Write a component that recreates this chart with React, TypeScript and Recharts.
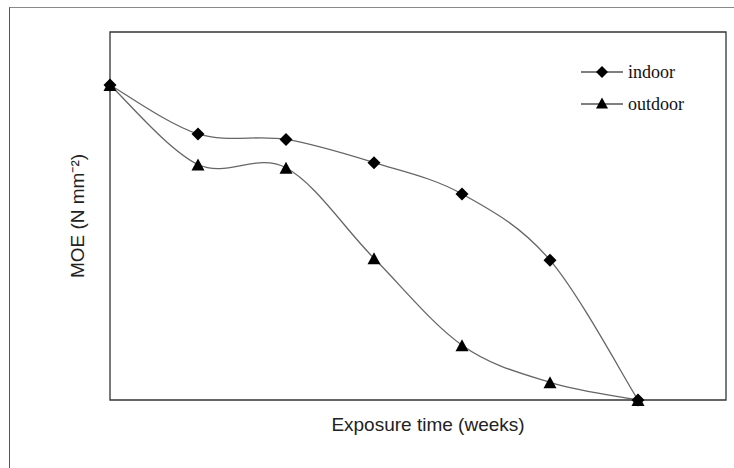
import { LineChart, Line, XAxis, YAxis, ReferenceArea, Legend } from "recharts";

const weeks = [0, 1, 2, 3, 4, 5, 6];
const indoorMoe = [85.6, 72.3, 70.8, 64.5, 56.0, 38.0, 0];
const outdoorMoe = [85.6, 64.0, 63.1, 38.5, 14.9, 4.8, 0];

const chartData = weeks.map((week, i) => ({
    week,
    indoor: indoorMoe[i],
    outdoor: outdoorMoe[i],
}));

/*
Excel-like smoothed line (catmull-rom through every point)
*/
function smoothCurve(context: any) {
    let pts: number[][] = [];
    return {
        areaStart() {},
        areaEnd() {},
        lineStart() { pts = []; },
        point(x: number, y: number) { pts.push([+x, +y]); },
        lineEnd() {
            if (!pts.length) return;
            context.moveTo(pts[0][0], pts[0][1]);
            for (let i = 0; i < pts.length - 1; i++) {
                const p0 = pts[i - 1] || pts[i];
                const p1 = pts[i];
                const p2 = pts[i + 1];
                const p3 = pts[i + 2] || p2;
                context.bezierCurveTo(
                    p1[0] + (p2[0] - p0[0]) / 6, p1[1] + (p2[1] - p0[1]) / 6,
                    p2[0] - (p3[0] - p1[0]) / 6, p2[1] - (p3[1] - p1[1]) / 6,
                    p2[0], p2[1]
                );
            }
        },
    };
}

const diamondPath = (x: number, y: number, r: number) =>
    `M${x},${y - r}L${x + r},${y}L${x},${y + r}L${x - r},${y}Z`;
const trianglePath = (x: number, y: number, w: number, h: number) =>
    `M${x},${y - h / 2}L${x + w / 2},${y + h / 2}L${x - w / 2},${y + h / 2}Z`;

const DiamondDot = (props: any) => (
    <path key={`d-${props.index}`} d={diamondPath(props.cx, props.cy, 6.5)} fill="#000" />
);
const TriangleDot = (props: any) => (
    <path key={`t-${props.index}`} d={trianglePath(props.cx, props.cy, 13, 12)} fill="#000" />
);

function MoeLegend() {
    return (
        <svg width={130} height={60} style={{ display: "block" }}>
            <line x1={1} x2={43} y1={12} y2={12} stroke="#000" strokeWidth={1.2} />
            <path d={diamondPath(22, 12, 6)} fill="#000" />
            <text x={48} y={18} fontFamily="Liberation Serif" fontSize={18} fill="#111">indoor</text>
            <line x1={1} x2={43} y1={44} y2={44} stroke="#000" strokeWidth={1.2} />
            <path d={trianglePath(22, 43, 12, 11)} fill="#000" />
            <text x={48} y={50} fontFamily="Liberation Serif" fontSize={18} fill="#111">outdoor</text>
        </svg>
    );
}

export default function App() {
    return (
        <div style={{ position: "absolute", left: 0, top: 0, width: 734, height: 468, background: "#fff" }}>
            <div style={{
                position: "absolute", left: 9, top: 7, width: 725, height: 461,
                borderLeft: "1.5px solid #555", borderTop: "1.5px solid #888",
            }} />
            <div style={{ position: "absolute", left: 0, top: 0 }}>
                <LineChart width={734} height={468} data={chartData}
                    margin={{ top: 32, right: 8, bottom: 34, left: 0 }}>

                    <XAxis dataKey="week"
                        type="number"
                        domain={[0, 7]}
                        height={34}
                        tick={false}
                        tickLine={false}
                        axisLine={false}
                        label={{
                            value: "Exposure time (weeks)",
                            position: "insideBottom",
                            offset: 3,
                            dx: 10,
                            style: { fontFamily: "Liberation Sans", fontSize: 19, fill: "#222" },
                        }} />

                    <YAxis type="number"
                        domain={[0, 100]}
                        width={110}
                        tick={false}
                        tickLine={false}
                        axisLine={false}
                        label={{
                            value: "MOE (N mm\u207B\u00B2)",
                            angle: -90,
                            position: "insideLeft",
                            offset: 77,
                            style: { textAnchor: "middle", fontFamily: "Liberation Sans", fontSize: 19, fill: "#222" },
                        }} />

                    <ReferenceArea x1={0} x2={7} y1={0} y2={100}
                        fill="#fff" fillOpacity={0}
                        stroke="#333" strokeWidth={1.3} />

                    <Legend layout="horizontal"
                        verticalAlign="middle"
                        align="center"
                        wrapperStyle={{ top: 60, left: 580, width: 130 }}
                        content={() => <MoeLegend />} />

                    <Line dataKey="indoor"
                        type={smoothCurve as any}
                        stroke="#666"
                        strokeWidth={1.3}
                        dot={DiamondDot}
                        activeDot={false}
                        isAnimationActive={false} />

                    <Line dataKey="outdoor"
                        type={smoothCurve as any}
                        stroke="#666"
                        strokeWidth={1.3}
                        dot={TriangleDot}
                        activeDot={false}
                        isAnimationActive={false} />
                </LineChart>
            </div>
        </div>
    );
}
